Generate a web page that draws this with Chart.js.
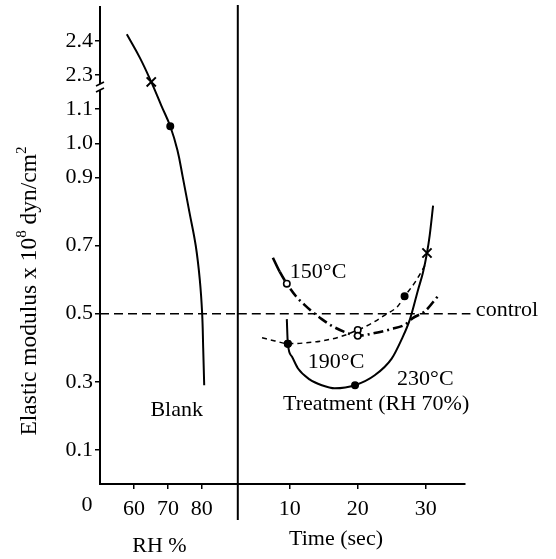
<!DOCTYPE html>
<html>
<head>
<meta charset="utf-8">
<script src="https://cdn.jsdelivr.net/npm/chart.js@4"></script>
<style>
  body { margin: 0; background: #fff; }
  #wrap { width: 556px; height: 559px; }
</style>
</head>
<body>
<div id="wrap"><canvas id="chart" width="556" height="559"></canvas></div>
<script>
// Blank sample: elastic modulus vs RH %
const blankRH = [57.9, 61.8, 65.1, 68.1, 70.7, 72.8, 74.4, 76.3, 78.2, 79.4, 80.1, 80.4, 80.7];
const blankModulus = [2.42, 2.35, 2.28, 1.11, 1.05, 0.98, 0.90, 0.80, 0.70, 0.60, 0.50, 0.40, 0.29];

// Treatment (RH 70%): elastic modulus vs time (sec)
const time150 = [7.5, 8.5, 9.55, 10.9, 12.2, 13.4, 14.7, 16.2, 18.1, 20.0, 22.5, 25.0, 26.9, 28.1, 29.9, 31.8];
const modulus150 = [0.664, 0.623, 0.588, 0.551, 0.525, 0.504, 0.484, 0.464, 0.446, 0.435, 0.443, 0.455, 0.467, 0.487, 0.507, 0.551];

const time190 = [5.9, 7.8, 9.7, 12.2, 14.7, 17.4, 20.0, 22.1, 24.0, 25.9, 26.9, 28.4, 30.2];
const modulus190 = [0.429, 0.420, 0.412, 0.414, 0.420, 0.432, 0.452, 0.472, 0.496, 0.522, 0.551, 0.591, 0.652];

const time230 = [9.55, 9.7, 10.3, 11.2, 12.9, 14.7, 16.6, 19.6, 22.5, 25.0, 26.5, 27.7, 28.9, 29.6, 30.2, 30.6, 31.1];
const modulus230 = [0.484, 0.412, 0.374, 0.339, 0.307, 0.290, 0.281, 0.290, 0.319, 0.368, 0.426, 0.484, 0.571, 0.620, 0.678, 0.730, 0.817];

const controlModulus = 0.5;

const yTicks = [0.1, 0.3, 0.5, 0.7, 0.9, 1.0, 1.1, 2.3, 2.4];
const rhTicks = [60, 70, 80];
const timeTicks = [10, 20, 30];
const rhRange = [50, 90.6];
const timeRange = [2.33, 35.8];
const controlTimeEnd = 36.6;

const FONT = '"Liberation Serif", "Times New Roman", serif';

// broken axis: values above the break sit 1.1 lower
function toAxis(v) { return v > 2 ? v - 1.1 : v; }

function pts(xs, ys) { return xs.map((x, i) => ({ x: x, y: toAxis(ys[i]) })); }

function marks(n, spec) {
    const radius = [], style = [], fill = [], width = [];
    for (let i = 0; i < n; i++) {
        const s = spec[i];
        radius.push(s ? (s === 'x' ? 6.5 : 3.2) : 0);
        style.push(s === 'x' ? 'crossRot' : 'circle');
        fill.push(s === 'open' ? '#fff' : '#000');
        width.push(s === 'x' ? 2 : 1.6);
    }
    return {
        pointRadius: radius, pointStyle: style, pointBackgroundColor: fill,
        pointBorderColor: '#000', pointBorderWidth: width, pointHoverRadius: 0
    };
}

const notes = [
    { text: 'Blank', axis: 'x', x: 72.6, y: 0.217, align: 'center' },
    { text: 'Treatment (RH 70%)', axis: 'xt', x: 9.0, y: 0.235, align: 'left' },
    { text: '150°C', axis: 'xt', x: 10.0, y: 0.623, align: 'left' },
    { text: '190°C', axis: 'xt', x: 12.65, y: 0.357, align: 'left' },
    { text: '230°C', axis: 'xt', x: 25.8, y: 0.307, align: 'left' },
    { text: 'control', axis: 'xt', x: 37.4, y: 0.51, align: 'left' }
];

const decor = {
    id: 'decor',
    afterDraw(chart) {
        const { ctx } = chart;
        const { x, xt, y } = chart.scales;
        ctx.save();
        ctx.strokeStyle = '#000';
        ctx.fillStyle = '#000';

        // panel divider
        ctx.lineWidth = 2;
        ctx.beginPath();
        ctx.moveTo(x.right, y.top - 2);
        ctx.lineTo(x.right, y.bottom + 36);
        ctx.stroke();

        // axis break mark
        const by = y.getPixelForValue(1.165);
        ctx.fillStyle = '#fff';
        ctx.fillRect(x.left - 2, by - 3, 4, 6);
        ctx.lineWidth = 1.6;
        ctx.beginPath();
        ctx.moveTo(x.left - 4, by - 1); ctx.lineTo(x.left + 4, by - 5);
        ctx.moveTo(x.left - 4, by + 5); ctx.lineTo(x.left + 4, by + 1);
        ctx.stroke();
        ctx.fillStyle = '#000';

        ctx.font = '22px ' + FONT;
        ctx.textBaseline = 'middle';
        notes.forEach(n => {
            const sc = chart.scales[n.axis];
            ctx.textAlign = n.align;
            ctx.fillText(n.text, sc.getPixelForValue(n.x), y.getPixelForValue(n.y));
        });

        // axis titles and origin
        ctx.textAlign = 'center';
        ctx.fillText('0', x.left - 13, y.bottom + 21);
        ctx.fillText('RH %', x.getPixelForValue(67.5), y.bottom + 62);
        ctx.fillText('Time (sec)', xt.getPixelForValue(16.8), y.bottom + 55);

        // rotated y title with superscripts
        const parts = [
            ['Elastic modulus x 10', 23.5, 0],
            ['8', 15, -10],
            [' dyn/cm', 23.5, 0],
            ['2', 15, -10]
        ];
        let total = 0;
        parts.forEach(p => { ctx.font = p[1] + 'px ' + FONT; total += ctx.measureText(p[0]).width; });
        ctx.translate(36, 291);
        ctx.rotate(-Math.PI / 2);
        ctx.textAlign = 'left';
        ctx.textBaseline = 'alphabetic';
        let cx = -total / 2;
        parts.forEach(p => {
            ctx.font = p[1] + 'px ' + FONT;
            ctx.fillText(p[0], cx, p[2]);
            cx += ctx.measureText(p[0]).width;
        });
        ctx.restore();
    }
};

const tickFont = { family: FONT, size: 22 };
const gridOpts = { display: true, drawOnChartArea: false, drawTicks: true, tickLength: 5, color: '#000', lineWidth: 1.5 };
const borderOpts = { display: true, color: '#000', width: 2 };

new Chart(document.getElementById('chart'), {
    type: 'line',
    data: {
        datasets: [
            {
                label: 'control (RH)', xAxisID: 'x', yAxisID: 'y',
                data: pts(rhRange, [controlModulus, controlModulus]),
                borderColor: '#000', borderWidth: 1.5, borderDash: [9, 5], pointRadius: 0
            },
            {
                label: 'control (time)', xAxisID: 'xt', yAxisID: 'y',
                data: pts([timeRange[0], controlTimeEnd], [controlModulus, controlModulus]),
                borderColor: '#000', borderWidth: 1.5, borderDash: [9, 5], pointRadius: 0, clip: false
            },
            {
                label: 'Blank', xAxisID: 'x', yAxisID: 'y',
                data: pts(blankRH, blankModulus),
                borderColor: '#000', borderWidth: 2, tension: 0.4,
                ...marks(blankRH.length, { 2: 'x', 4: 'dot' })
            },
            {
                label: '150°C', xAxisID: 'xt', yAxisID: 'y',
                data: pts(time150, modulus150),
                borderColor: '#000', borderWidth: 2.6, cubicInterpolationMode: 'monotone',
                segment: { borderDash: c => c.p0DataIndex < 1 ? [] : [10, 4, 2, 4] },
                ...marks(time150.length, { 2: 'open', 9: 'open' })
            },
            {
                label: '190°C', xAxisID: 'xt', yAxisID: 'y',
                data: pts(time190, modulus190),
                borderColor: '#000', borderWidth: 1.5, borderDash: [5, 4], cubicInterpolationMode: 'monotone',
                ...marks(time190.length, { 2: 'dot', 6: 'open', 10: 'dot' })
            },
            {
                label: '230°C', xAxisID: 'xt', yAxisID: 'y',
                data: pts(time230, modulus230),
                borderColor: '#000', borderWidth: 2, cubicInterpolationMode: 'monotone',
                ...marks(time230.length, { 1: 'dot', 7: 'dot', 14: 'x' })
            }
        ]
    },
    options: {
        responsive: false,
        animation: false,
        events: [],
        layout: { padding: { left: 0, right: 91, top: 7, bottom: 0 } },
        plugins: { legend: { display: false }, tooltip: { enabled: false } },
        scales: {
            x: {
                type: 'linear', position: 'bottom', stack: 'bottom', stackWeight: rhRange[1] - rhRange[0],
                min: rhRange[0], max: rhRange[1],
                grid: gridOpts, border: borderOpts,
                afterBuildTicks: s => { s.ticks = rhTicks.map(v => ({ value: v })); },
                afterFit: s => { s.height = 75; },
                ticks: { font: tickFont, color: '#000', padding: 7, maxRotation: 0, autoSkip: false, callback: v => String(v) }
            },
            xt: {
                type: 'linear', position: 'bottom', stack: 'bottom', stackWeight: (timeRange[1] - timeRange[0]) * 2.0,
                min: timeRange[0], max: timeRange[1],
                grid: gridOpts, border: borderOpts,
                afterBuildTicks: s => { s.ticks = timeTicks.map(v => ({ value: v })); },
                afterFit: s => { s.height = 75; },
                ticks: { font: tickFont, color: '#000', padding: 7, maxRotation: 0, autoSkip: false, callback: v => String(v) }
            },
            y: {
                type: 'linear', position: 'left', min: 0, max: 1.4,
                grid: gridOpts, border: borderOpts,
                afterBuildTicks: s => { s.ticks = yTicks.map(v => ({ value: toAxis(v) })); },
                afterFit: s => { s.width = 100; s.paddingTop = 0; s.paddingBottom = 0; },
                ticks: { font: tickFont, color: '#000', padding: 2, autoSkip: false, callback: (v, i) => yTicks[i].toFixed(1) }
            }
        }
    },
    plugins: [decor]
});
</script>
</body>
</html>
